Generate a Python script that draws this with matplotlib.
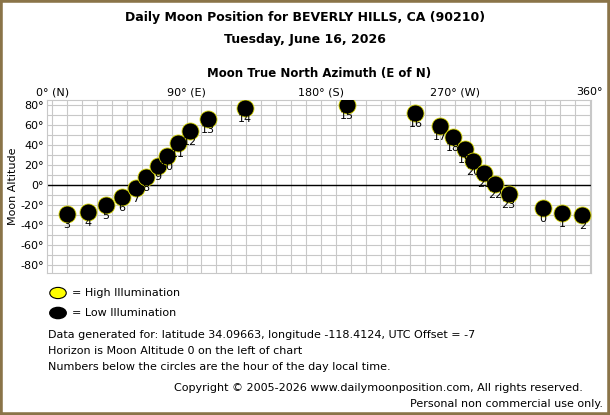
import matplotlib.pyplot as plt
from matplotlib.patches import Rectangle

# Moon position by hour (local time)
hours = [3, 4, 5, 6, 7, 8, 9, 10, 11, 12, 13, 14, 15, 16, 17, 18, 19, 20, 21, 22, 23, 0, 1, 2]
azimuth = [9.6, 24.2, 35.9, 46.9, 56.0, 63.0, 70.8, 76.8, 84.3, 92.4, 104.1, 128.9,
           197.3, 243.4, 259.5, 268.6, 276.7, 281.9, 289.5, 296.7, 305.8, 329.0, 341.8, 355.3]
altitude = [-29, -26.7, -20, -11.7, -2.7, 8, 19, 29.3, 41.7, 54, 65.7, 76.7,
            80, 72.3, 59.3, 47.7, 36, 24, 12.3, 1, -9.3, -22.7, -28.3, -30]

xticks = [0, 90, 180, 270, 360]
xlabels = ['0° (N)', '90° (E)', '180° (S)', '270° (W)', '360°']
yticks = [80, 60, 40, 20, 0, -20, -40, -60, -80]

W, H = 610, 415
fig = plt.figure(figsize=(6.1, 4.15), dpi=100)
fig.patch.set_facecolor('white')
fig.add_artist(Rectangle((0, 0), 1, 1, transform=fig.transFigure, fill=False,
                         edgecolor='#8a7448', linewidth=4))

def fx(px): return px / W
def fy(py): return 1 - py / H

ax = fig.add_axes([fx(47), fy(273), fx(591) - fx(47), fy(100) - fy(273)])
ax.set_xlim(-3.5, 361)
ax.set_ylim(-88, 85)
ax.set_xticks(range(0, 361, 10), minor=True)
ax.set_yticks(range(-80, 81, 10), minor=True)
ax.set_xticks(xticks)
ax.set_xticklabels(xlabels, fontsize=8)
ax.set_yticks(yticks)
ax.set_yticklabels([f'{v}°' for v in yticks], fontsize=8)
ax.xaxis.tick_top()
ax.tick_params(which='both', length=0, pad=2)
ax.grid(which='both', color='#c8c8c8', linewidth=0.8)
ax.set_axisbelow(True)
for s in ax.spines.values():
    s.set_color('#c8c8c8')
ax.axhline(0, color='black', linewidth=1)
ax.set_ylabel('Moon Altitude', fontsize=8, labelpad=2)

ax.scatter(azimuth, altitude, s=150, c='black', edgecolors='#d8d800', linewidths=0.6, zorder=3)
for h, a, al in zip(hours, azimuth, altitude):
    ax.text(a, al - 6, str(h), ha='center', va='top', fontsize=8, zorder=4)

fig.text(0.5, fy(18), 'Daily Moon Position for BEVERLY HILLS, CA (90210)',
         ha='center', va='center', fontsize=9, fontweight='bold')
fig.text(0.5, fy(40), 'Tuesday, June 16, 2026', ha='center', va='center',
         fontsize=9, fontweight='bold')
fig.text(fx(319), fy(73), 'Moon True North Azimuth (E of N)', ha='center',
         va='center', fontsize=8.5, fontweight='bold')

fig.add_artist(plt.Circle((fx(58), fy(293)), 0.0135, transform=fig.transFigure,
                          facecolor='yellow', edgecolor='black', linewidth=0.8))
fig.text(fx(72), fy(293), '= High Illumination', va='center', fontsize=8)
fig.add_artist(plt.Circle((fx(58), fy(313)), 0.0135, transform=fig.transFigure,
                          facecolor='black', edgecolor='black'))
fig.text(fx(72), fy(313), '= Low Illumination', va='center', fontsize=8)

info = ['Data generated for: latitude 34.09663, longitude -118.4124, UTC Offset = -7',
        'Horizon is Moon Altitude 0 on the left of chart',
        'Numbers below the circles are the hour of the day local time.']
for i, t in enumerate(info):
    fig.text(fx(48), fy(335 + 16 * i), t, va='center', fontsize=8)

fig.text(fx(583), fy(388), 'Copyright © 2005-2026 www.dailymoonposition.com, All rights reserved.',
         ha='right', va='center', fontsize=8)
fig.text(fx(603), fy(404), 'Personal non commercial use only.', ha='right', va='center', fontsize=8)

fig.savefig('out.png', dpi=100)
